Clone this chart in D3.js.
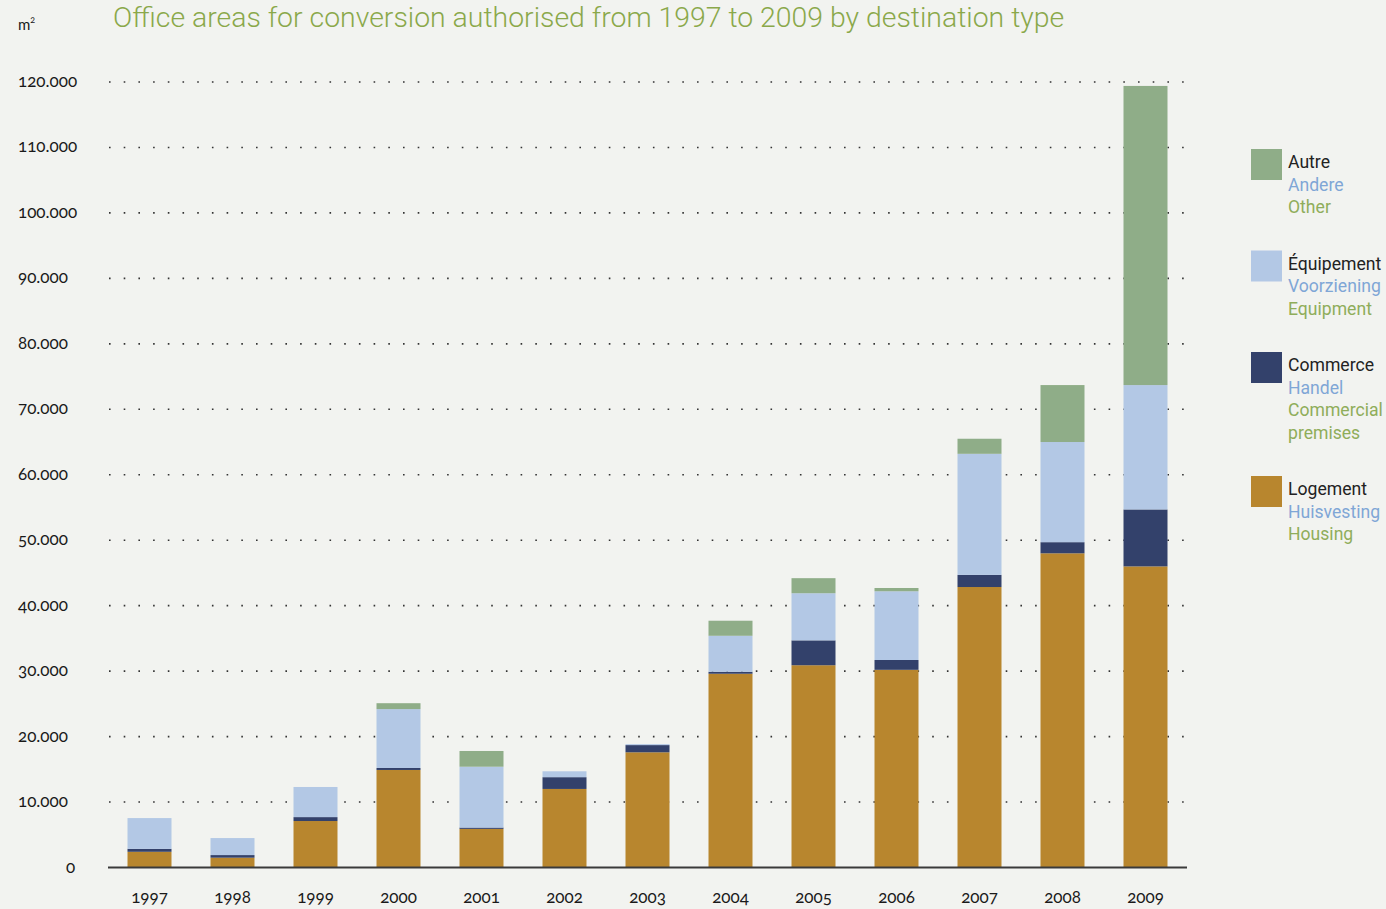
<!DOCTYPE html>
<html>
<head>
<meta charset="utf-8">
<script src="https://cdn.jsdelivr.net/npm/d3@7"></script>
<style>
  body { margin: 0; background: #f2f3f0; }
  svg { display: block; }
  .num { font-family: Lato, "Open Sans", sans-serif; font-variant-numeric: oldstyle-nums; font-size: 17px; fill: #1a1a1a; }
  .leg { font-family: Roboto, "Liberation Sans", sans-serif; font-size: 17.6px; }
</style>
</head>
<body>
<div id="chart"></div>
<script>
// data, in m2
var years = ["1997", "1998", "1999", "2000", "2001", "2002", "2003", "2004", "2005", "2006", "2007", "2008", "2009"];
var housing    = [2400, 1500, 7100, 14900, 5900, 12000, 17600, 29600, 30900, 30200, 42850, 48000, 46000];
var commercial = [450, 400, 600, 300, 200, 1800, 1100, 300, 3800, 1500, 1850, 1700, 8700];
var equipment  = [4700, 2600, 4600, 9000, 9300, 900, 150, 5500, 7200, 10500, 18500, 15300, 19000];
var other      = [0, 0, 0, 900, 2400, 0, 0, 2300, 2300, 500, 2300, 8700, 45700];
var yTicks = [0, 10000, 20000, 30000, 40000, 50000, 60000, 70000, 80000, 90000, 100000, 110000, 120000];

var keys = ["housing", "commercial", "equipment", "other"];
var colors = {housing: "#b8862e", commercial: "#33416b", equipment: "#b3c8e5", other: "#8fad88"};
var legendItems = [
  {key: "other", lines: ["Autre", "Andere", "Other"]},
  {key: "equipment", lines: ["Équipement", "Voorziening", "Equipment"]},
  {key: "commercial", lines: ["Commerce", "Handel", "Commercial", "premises"]},
  {key: "housing", lines: ["Logement", "Huisvesting", "Housing"]}
];
var lineColors = ["#222222", "#7fa6d6", "#8fad5a"];

var W = 1386, H = 909;
var svg = d3.select("#chart").append("svg").attr("width", W).attr("height", H);
svg.append("rect").attr("width", W).attr("height", H).attr("fill", "#f2f3f0");

var x = d3.scaleBand().domain(years).range([108, 1187]).paddingInner(0.47).paddingOuter(0.235);
var y = d3.scaleLinear().domain([0, 120000]).range([867.5, 82]);

var rows = years.map(function(yr, i) {
  return {year: yr, housing: housing[i], commercial: commercial[i], equipment: equipment[i], other: other[i]};
});

// title (kept just inside the top edge)
svg.append("text")
  .attr("x", 113).attr("y", 27)
  .attr("font-family", "Roboto, sans-serif").attr("font-weight", 300)
  .attr("font-size", 28.4).attr("fill", "#8aa84a")
  .text("Office areas for conversion authorised from 1997 to 2009 by destination type");

// unit
var unit = svg.append("text").attr("class", "num").attr("x", 18).attr("y", 30).style("font-size", "15px");
unit.append("tspan").text("m");
unit.append("tspan").attr("dy", -7).style("font-size", "9px").text("2");

// dotted grid
svg.append("g").selectAll("line")
  .data(yTicks.filter(function(d) { return d > 0; }))
  .enter().append("line")
  .attr("x1", 109).attr("x2", 1187)
  .attr("y1", function(d) { return y(d); }).attr("y2", function(d) { return y(d); })
  .attr("stroke", "#333").attr("stroke-width", 1.6)
  .attr("stroke-dasharray", "1.6,13.1");

// y labels
svg.append("g").selectAll("text")
  .data(yTicks)
  .enter().append("text")
  .attr("class", "num")
  .attr("x", function(d) { return d === 0 ? 66 : 18; })
  .attr("y", function(d) { return y(d) + 5; })
  .text(function(d) { return d === 0 ? "0" : d3.format(",")(d).replace(/,/g, "."); });

// stacked bars
var series = d3.stack().keys(keys)(rows);
svg.append("g").selectAll("g")
  .data(series)
  .enter().append("g")
  .attr("fill", function(s) { return colors[s.key]; })
  .selectAll("rect")
  .data(function(s) { return s; })
  .enter().append("rect")
  .attr("x", function(d) { return x(d.data.year); })
  .attr("width", x.bandwidth())
  .attr("y", function(d) { return y(d[1]); })
  .attr("height", function(d) { return y(d[0]) - y(d[1]); });

// baseline
svg.append("line")
  .attr("x1", 108).attr("x2", 1187)
  .attr("y1", y(0)).attr("y2", y(0))
  .attr("stroke", "#3a3a3a").attr("stroke-width", 2);

// x labels
svg.append("g").selectAll("text")
  .data(years)
  .enter().append("text")
  .attr("class", "num")
  .attr("x", function(d) { return x(d) + x.bandwidth() / 2; })
  .attr("y", 903)
  .attr("text-anchor", "middle")
  .text(function(d) { return d; });

// legend
var ly = 149;
legendItems.forEach(function(item) {
  var g = svg.append("g").attr("transform", "translate(1251," + ly + ")");
  g.append("rect").attr("width", 31).attr("height", 31).attr("fill", colors[item.key]);
  item.lines.forEach(function(t, i) {
    g.append("text").attr("class", "leg")
      .attr("x", 37).attr("y", 19 + i * 22.5)
      .attr("fill", lineColors[Math.min(i, 2)])
      .text(t);
  });
  ly += item.lines.length * 22.5 + 34;
});
</script>
</body>
</html>
